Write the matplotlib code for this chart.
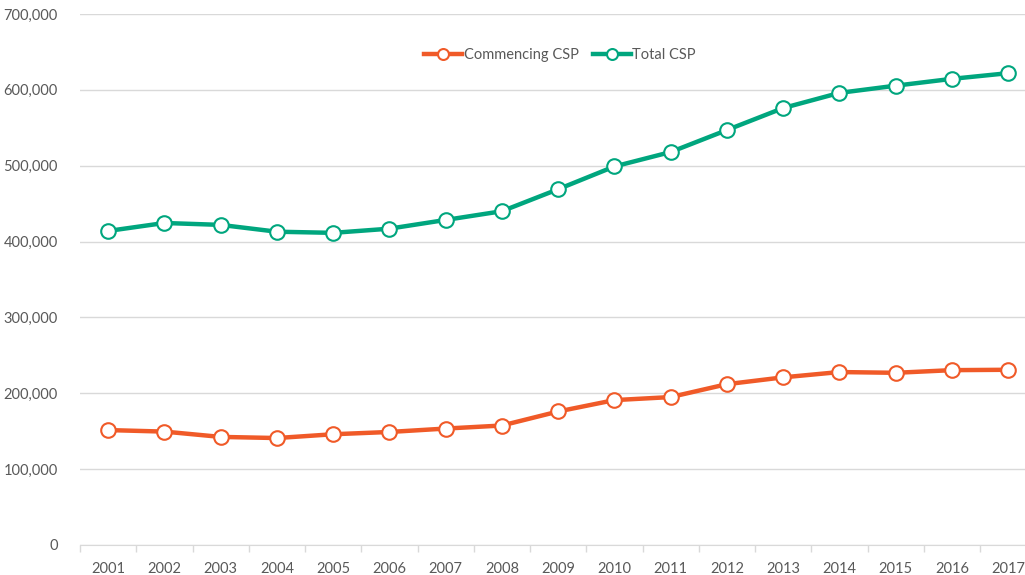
import numpy as np
import matplotlib.pyplot as plt
from matplotlib.ticker import FuncFormatter, FixedLocator

# data
years = [str(y) for y in range(2001, 2018)]
commencing = [151500, 149500, 142500, 141000, 146000, 149000, 153500, 157500, 176000,
              191000, 195000, 212000, 221000, 228000, 227000, 230500, 231000]
total = [414000, 424500, 422000, 413000, 411500, 417000, 428500, 440000, 469000,
         499000, 518000, 547000, 576000, 596000, 605500, 614500, 622000]

orange = '#F05A28'
green = '#00A67E'
grey_txt = '#595959'

plt.rcParams['font.family'] = ['Lato', 'DejaVu Sans']

fig = plt.figure(figsize=(10.25, 5.75), dpi=100)
ax = fig.add_axes([80 / 1025, 1 - 545 / 575, 1 - 80 / 1025, (545 - 14) / 575])

x = np.arange(len(years))
ax.plot(x, commencing, color=orange, lw=3.2, marker='o', ms=10.5, mfc='white',
        mec=orange, mew=1.5, label='Commencing CSP', zorder=3)
ax.plot(x, total, color=green, lw=3.2, marker='o', ms=10.5, mfc='white',
        mec=green, mew=1.5, label='Total CSP', zorder=3)

ax.set_xlim(-0.5, 16.3)
ax.set_ylim(0, 700000)
ax.set_yticks(np.arange(0, 700001, 100000))
ax.yaxis.set_major_formatter(FuncFormatter(lambda v, p: f'{int(v):,}'))
ax.grid(axis='y', color='#D9D9D9', lw=1)
ax.set_axisbelow(True)

ax.set_xticks(x)
ax.set_xticklabels(years)
ax.xaxis.set_minor_locator(FixedLocator(np.arange(-0.5, 17, 1)))
ax.tick_params(axis='x', which='major', length=0, pad=12, labelsize=10.5, labelcolor=grey_txt)
ax.tick_params(axis='x', which='minor', length=5, color='#D9D9D9', width=1)
ax.tick_params(axis='y', length=0, pad=16, labelsize=10.5, labelcolor=grey_txt)

for s in ['top', 'right', 'left']:
    ax.spines[s].set_visible(False)
ax.spines['bottom'].set_color('#D9D9D9')

ax.legend(loc='upper center', bbox_to_anchor=(0.508, 0.96), ncol=2, frameon=False,
          fontsize=10.5, labelcolor=grey_txt, handlelength=2.6, handletextpad=0.1,
          columnspacing=1.0, markerscale=0.75)

fig.savefig('out.png', dpi=100)
